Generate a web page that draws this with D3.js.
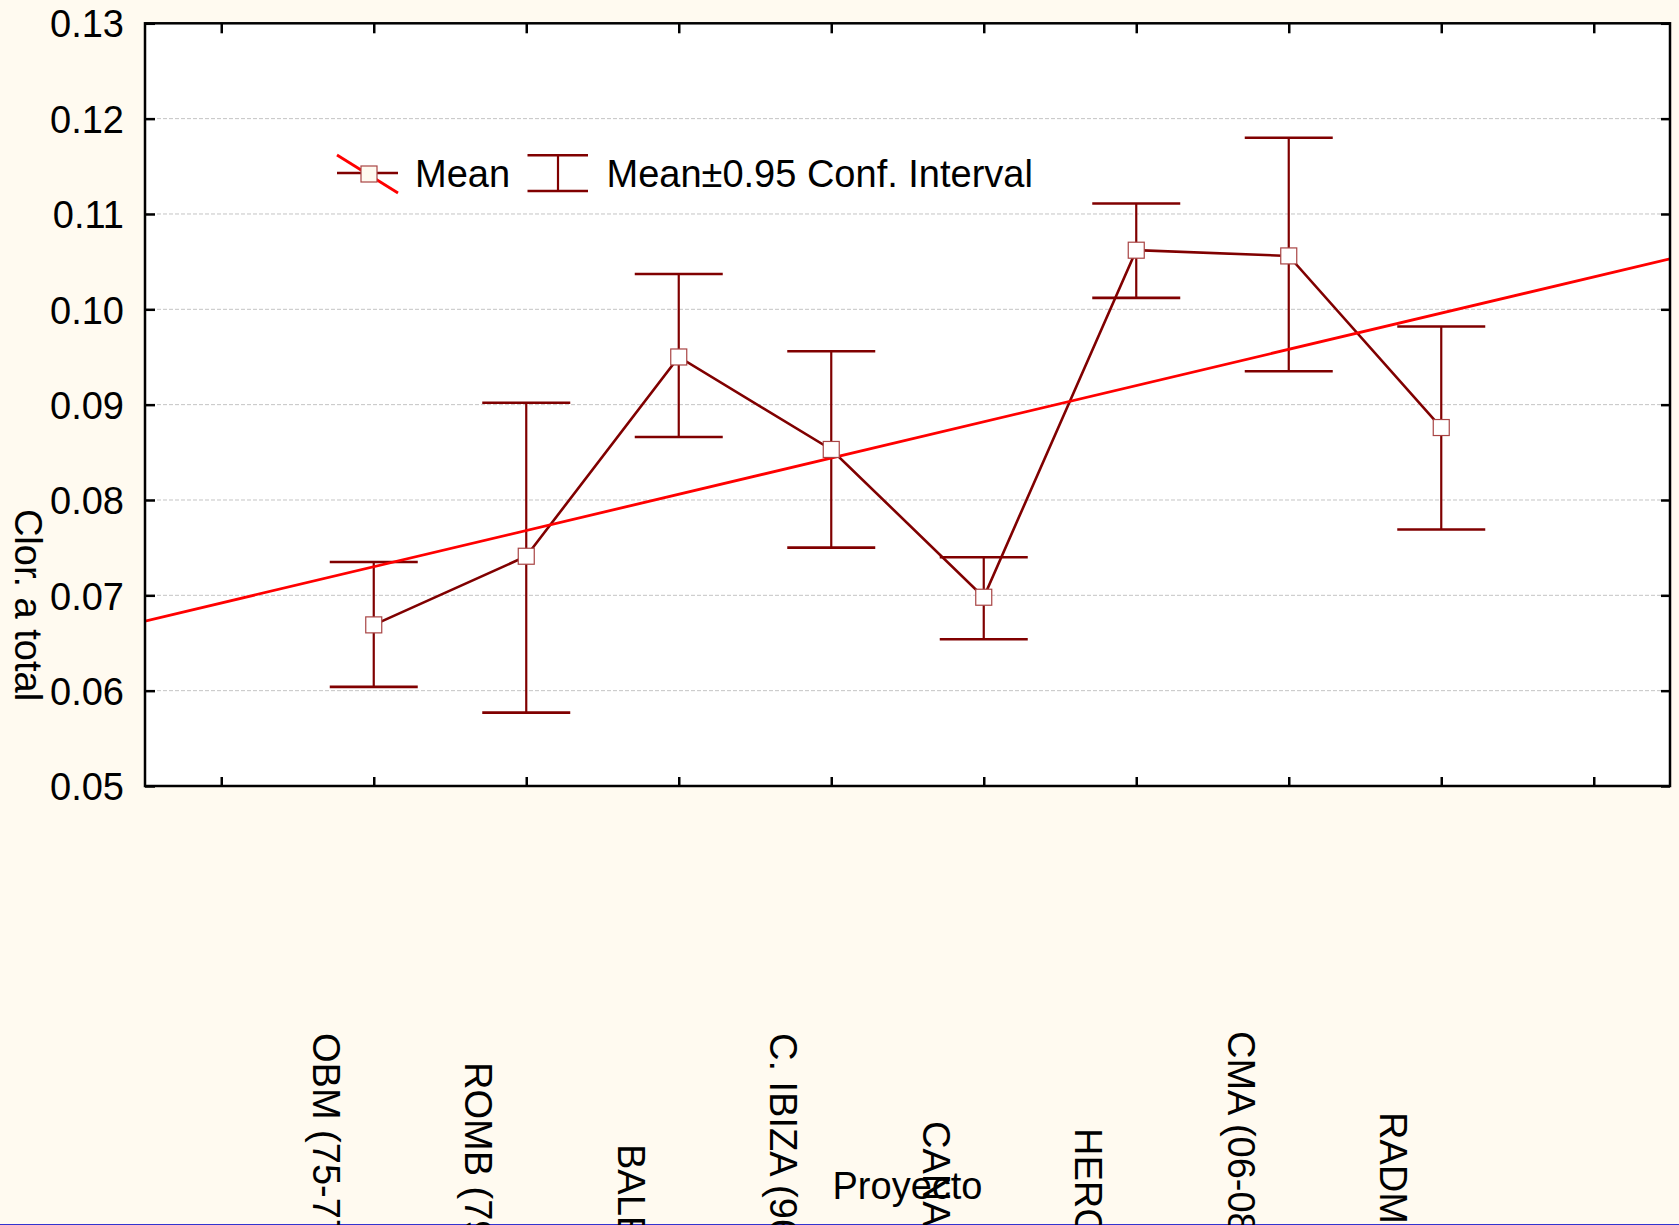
<!DOCTYPE html>
<html>
<head>
<meta charset="utf-8">
<script src="https://cdn.jsdelivr.net/npm/d3@7"></script>
<style>
  html, body { margin: 0; padding: 0; background: #fffaf0; overflow: hidden; }
  svg { display: block; }
  text { font-family: "Liberation Sans", Arial, sans-serif; fill: #000; }
</style>
</head>
<body>
<script>
// ---------------- data ----------------
const categories = ["OBM (75-77)", "ROMB (79-80)", "BALEAR", "C. IBIZA (96-98)", "CANALES", "HERCULES", "CMA (06-08)", "RADMED"];
const meanValues = [0.0669, 0.0741, 0.0950, 0.0853, 0.0698, 0.1062, 0.1056, 0.0876];
const upperCI    = [0.0735, 0.0902, 0.1037, 0.0956, 0.0740, 0.1111, 0.1180, 0.0982];
const lowerCI    = [0.0604, 0.0577, 0.0866, 0.0750, 0.0654, 0.1012, 0.0935, 0.0769];
const fitEnds    = [0.0673, 0.1053];           // linear fit value at left and right plot edges
const yTicks     = [0.05, 0.06, 0.07, 0.08, 0.09, 0.10, 0.11, 0.12, 0.13];
const xSlots     = ["", ...categories, ""];    // x tick slots (empty first/last)
const yTitle     = "Clor. a total";
const xTitle     = "Proyecto";
const legendItems = ["Mean", "Mean\u00b10.95 Conf. Interval"];

// ---------------- layout ----------------
const W = 1679, H = 1225;
const plot = { left: 145, right: 1670, top: 23.3, bottom: 786 };
const labelDrop = [247, 276, 358, 247, 335, 342, 245, 326]; // label start distance below axis
const dark = "#800000", red = "#ff0000";

const svg = d3.select("body").append("svg").attr("width", W).attr("height", H);
svg.append("rect").attr("width", W).attr("height", H).attr("fill", "#fffaf0");
svg.append("rect").attr("x", 0).attr("y", H - 1).attr("width", W).attr("height", 1).attr("fill", "#3434d0");

const x = d3.scaleLinear().domain([0.5, xSlots.length + 0.5]).range([plot.left, plot.right]);
const y = d3.scaleLinear().domain([0.05, 0.13]).range([plot.bottom, plot.top]);
const slotPos = xSlots.map((d, i) => i + 1);
const pts = categories.map((c, i) => ({ c, pos: i + 2, m: meanValues[i], hi: upperCI[i], lo: lowerCI[i] }));

// plot background
svg.append("rect").attr("x", plot.left).attr("y", plot.top)
  .attr("width", plot.right - plot.left).attr("height", plot.bottom - plot.top).attr("fill", "#fff");

// gridlines
svg.append("g").selectAll("line").data(yTicks.slice(1, -1)).join("line")
  .attr("x1", plot.left).attr("x2", plot.right)
  .attr("y1", d => y(d)).attr("y2", d => y(d))
  .attr("stroke", "#c4c4c4").attr("stroke-width", 1).attr("stroke-dasharray", "4,2");

// clip
svg.append("clipPath").attr("id", "clip").append("rect")
  .attr("x", plot.left).attr("y", plot.top)
  .attr("width", plot.right - plot.left).attr("height", plot.bottom - plot.top);
const g = svg.append("g").attr("clip-path", "url(#clip)");

// error bars
const capHalf = 44;
const eb = g.append("g").selectAll("g").data(pts).join("g");
eb.append("line").attr("x1", d => x(d.pos)).attr("x2", d => x(d.pos))
  .attr("y1", d => y(d.hi)).attr("y2", d => y(d.lo))
  .attr("stroke", dark).attr("stroke-width", 2.2);
eb.append("line").attr("x1", d => x(d.pos) - capHalf).attr("x2", d => x(d.pos) + capHalf)
  .attr("y1", d => y(d.hi)).attr("y2", d => y(d.hi))
  .attr("stroke", dark).attr("stroke-width", 2.6);
eb.append("line").attr("x1", d => x(d.pos) - capHalf).attr("x2", d => x(d.pos) + capHalf)
  .attr("y1", d => y(d.lo)).attr("y2", d => y(d.lo))
  .attr("stroke", dark).attr("stroke-width", 2.6);

// mean line
g.append("path").datum(pts)
  .attr("d", d3.line().x(d => x(d.pos)).y(d => y(d.m)))
  .attr("fill", "none").attr("stroke", dark).attr("stroke-width", 2.6);

// linear fit
const dom = x.domain();
g.append("line").attr("x1", x(dom[0])).attr("x2", x(dom[1]))
  .attr("y1", y(fitEnds[0])).attr("y2", y(fitEnds[1]))
  .attr("stroke", red).attr("stroke-width", 2.8);

// markers
const ms = 16;
g.append("g").selectAll("rect").data(pts).join("rect")
  .attr("x", d => x(d.pos) - ms / 2).attr("y", d => y(d.m) - ms / 2)
  .attr("width", ms).attr("height", ms)
  .attr("fill", "#fff").attr("stroke", "#a84444").attr("stroke-width", 1.2);

// axes (ticks pointing inward)
const fontSize = 38;
const axL = svg.append("g").attr("transform", `translate(${plot.left},0)`)
  .call(d3.axisLeft(y).tickValues(yTicks).tickSize(-10).tickPadding(21).tickFormat(d3.format(".2f")));
const axR = svg.append("g").attr("transform", `translate(${plot.right},0)`)
  .call(d3.axisRight(y).tickValues(yTicks).tickSize(-9).tickFormat(""));
const axT = svg.append("g").attr("transform", `translate(0,${plot.top})`)
  .call(d3.axisTop(x).tickValues(slotPos).tickSize(-10).tickFormat(""));
const axB = svg.append("g").attr("transform", `translate(0,${plot.bottom})`)
  .call(d3.axisBottom(x).tickValues(slotPos).tickSize(-9).tickFormat(""));
[axL, axR, axT, axB].forEach(a => {
  a.select(".domain").remove();
  a.selectAll(".tick line").attr("stroke", "#000").attr("stroke-width", 2.5);
});
axL.selectAll(".tick text").attr("font-size", fontSize).attr("font-family", "Liberation Sans, Arial, sans-serif")
  .attr("fill", "#000").attr("dy", "0.36em");

// frame
svg.append("rect").attr("x", plot.left).attr("y", plot.top)
  .attr("width", plot.right - plot.left).attr("height", plot.bottom - plot.top)
  .attr("fill", "none").attr("stroke", "#000").attr("stroke-width", 2.5);

// category labels (rotated, reading downward)
svg.append("g").selectAll("text").data(pts).join("text")
  .attr("transform", (d, i) => `translate(${x(d.pos) - 61},${plot.bottom + labelDrop[i]}) rotate(90)`)
  .attr("text-anchor", "start").attr("font-size", fontSize)
  .text(d => d.c);

// axis titles
svg.append("text").attr("transform", `translate(15,605) rotate(90)`)
  .attr("text-anchor", "middle").attr("font-size", fontSize).text(yTitle);
svg.append("text").attr("x", (plot.left + plot.right) / 2).attr("y", 1199)
  .attr("text-anchor", "middle").attr("font-size", fontSize).text(xTitle);

// legend
const lg = svg.append("g");
lg.append("line").attr("x1", 337).attr("x2", 398).attr("y1", 173).attr("y2", 173)
  .attr("stroke", dark).attr("stroke-width", 2.6);
lg.append("line").attr("x1", 337).attr("x2", 398).attr("y1", 155).attr("y2", 193)
  .attr("stroke", red).attr("stroke-width", 2.8);
lg.append("rect").attr("x", 369 - ms / 2).attr("y", 174 - ms / 2).attr("width", ms).attr("height", ms)
  .attr("fill", "#fffaf0").attr("stroke", "#a84444").attr("stroke-width", 1.2);
lg.append("text").attr("x", 415).attr("y", 187).attr("font-size", fontSize).text(legendItems[0]);
lg.append("line").attr("x1", 558).attr("x2", 558).attr("y1", 155.3).attr("y2", 191)
  .attr("stroke", dark).attr("stroke-width", 2.2);
lg.append("line").attr("x1", 527.5).attr("x2", 588).attr("y1", 155.3).attr("y2", 155.3)
  .attr("stroke", dark).attr("stroke-width", 2.6);
lg.append("line").attr("x1", 527.5).attr("x2", 588).attr("y1", 191).attr("y2", 191)
  .attr("stroke", dark).attr("stroke-width", 2.6);
lg.append("text").attr("x", 606.5).attr("y", 187).attr("font-size", fontSize).text(legendItems[1]);
</script>
</body>
</html>
